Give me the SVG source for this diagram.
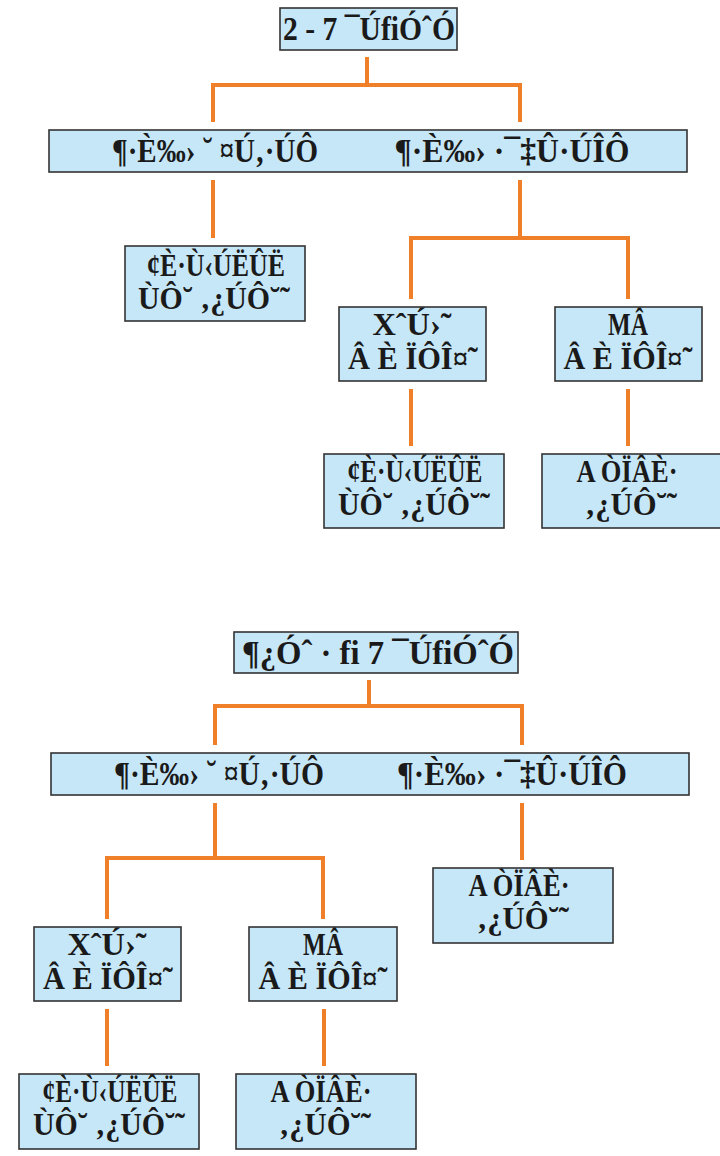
<svg xmlns="http://www.w3.org/2000/svg" width="720" height="1156" viewBox="0 0 720 1156">
<style>
.box{fill:#c6e7f8;stroke:#333;stroke-width:1.6}
.t{font-family:"Liberation Serif","Times New Roman",serif;font-weight:bold;font-size:34px;fill:#1a1a1a;text-anchor:middle}
.s{font-size:31px}
.c{fill:none;stroke:#f07f2a;stroke-width:4}
</style>
<rect width="720" height="1156" fill="#fff"/>
<g id="connectors">
<path class="c" d="M367,57 V85 M213,122 V85 H520 V122"/>
<path class="c" d="M213,180 V238"/>
<path class="c" d="M520,180 V238 M411,299 V238 H628 V299"/>
<path class="c" d="M411,389 V446 M628,389 V446"/>
<path class="c" d="M369,680 V706 M215,745 V706 H522 V745"/>
<path class="c" d="M215,803 V858 M107,919 V858 H323 V919"/>
<path class="c" d="M522,803 V860"/>
<path class="c" d="M107,1009 V1066 M324,1009 V1066"/>
</g>
<g id="n1"><rect class="box" x="280" y="8" width="177" height="42"/><text class="t" x="369" y="40" textLength="172" lengthAdjust="spacingAndGlyphs">2 - 7 ¯ÚfiÓˆÓ</text></g>
<g id="n2"><rect class="box" x="49" y="130" width="638" height="42"/>
<text class="t" x="215" y="162" textLength="206" lengthAdjust="spacingAndGlyphs">¶·È‰› ˘ ¤Ú‚·ÚÔ</text>
<text class="t" x="512" y="162" textLength="235" lengthAdjust="spacingAndGlyphs">¶·È‰› ·¯‡Û·ÚÎÔ</text></g>
<g id="n3"><rect class="box" x="125" y="246" width="180" height="75"/>
<text class="t s" x="216" y="276" textLength="138" lengthAdjust="spacingAndGlyphs">¢È·Ù‹ÚËÛË</text>
<text class="t s" x="214" y="309" textLength="152" lengthAdjust="spacingAndGlyphs">ÙÔ˘ ‚¿ÚÔ˘˜</text></g>
<g id="n4"><rect class="box" x="339" y="307" width="147" height="74"/>
<text class="t s" x="412" y="335" textLength="79" lengthAdjust="spacingAndGlyphs">XˆÚ›˜</text>
<text class="t s" x="413" y="369" textLength="130" lengthAdjust="spacingAndGlyphs">Â È ÏÔÎ¤˜</text></g>
<g id="n5"><rect class="box" x="555" y="307" width="147" height="74"/>
<text class="t s" x="628" y="335" textLength="40" lengthAdjust="spacingAndGlyphs">MÂ</text>
<text class="t s" x="628" y="369" textLength="129" lengthAdjust="spacingAndGlyphs">Â È ÏÔÎ¤˜</text></g>
<g id="n6"><rect class="box" x="324" y="454" width="180" height="74"/>
<text class="t s" x="415" y="482" textLength="135" lengthAdjust="spacingAndGlyphs">¢È·Ù‹ÚËÛË</text>
<text class="t s" x="414" y="515" textLength="152" lengthAdjust="spacingAndGlyphs">ÙÔ˘ ‚¿ÚÔ˘˜</text></g>
<g id="n7"><rect class="box" x="542" y="454" width="180" height="74"/>
<text class="t s" x="627" y="482" textLength="101" lengthAdjust="spacingAndGlyphs">A ÒÏÂÈ·</text>
<text class="t s" x="631" y="515" textLength="92" lengthAdjust="spacingAndGlyphs">‚¿ÚÔ˘˜</text></g>
<g id="n8"><rect class="box" x="234" y="632" width="284" height="41"/><text class="t" x="378" y="664" textLength="272" lengthAdjust="spacingAndGlyphs">¶¿Óˆ · fi 7 ¯ÚfiÓˆÓ</text></g>
<g id="n9"><rect class="box" x="51" y="753" width="638" height="42"/>
<text class="t" x="219" y="785" textLength="210" lengthAdjust="spacingAndGlyphs">¶·È‰› ˘ ¤Ú‚·ÚÔ</text>
<text class="t" x="512" y="785" textLength="230" lengthAdjust="spacingAndGlyphs">¶·È‰› ·¯‡Û·ÚÎÔ</text></g>
<g id="n10"><rect class="box" x="34" y="927" width="147" height="74"/>
<text class="t s" x="107" y="955" textLength="79" lengthAdjust="spacingAndGlyphs">XˆÚ›˜</text>
<text class="t s" x="108" y="989" textLength="130" lengthAdjust="spacingAndGlyphs">Â È ÏÔÎ¤˜</text></g>
<g id="n11"><rect class="box" x="249" y="927" width="148" height="74"/>
<text class="t s" x="323" y="955" textLength="40" lengthAdjust="spacingAndGlyphs">MÂ</text>
<text class="t s" x="323" y="989" textLength="129" lengthAdjust="spacingAndGlyphs">Â È ÏÔÎ¤˜</text></g>
<g id="n12"><rect class="box" x="433" y="868" width="180" height="75"/>
<text class="t s" x="519" y="896" textLength="101" lengthAdjust="spacingAndGlyphs">A ÒÏÂÈ·</text>
<text class="t s" x="523" y="929" textLength="92" lengthAdjust="spacingAndGlyphs">‚¿ÚÔ˘˜</text></g>
<g id="n13"><rect class="box" x="19" y="1074" width="180" height="75"/>
<text class="t s" x="110" y="1102" textLength="135" lengthAdjust="spacingAndGlyphs">¢È·Ù‹ÚËÛË</text>
<text class="t s" x="109" y="1135" textLength="152" lengthAdjust="spacingAndGlyphs">ÙÔ˘ ‚¿ÚÔ˘˜</text></g>
<g id="n14"><rect class="box" x="236" y="1074" width="180" height="75"/>
<text class="t s" x="321" y="1102" textLength="101" lengthAdjust="spacingAndGlyphs">A ÒÏÂÈ·</text>
<text class="t s" x="325" y="1135" textLength="92" lengthAdjust="spacingAndGlyphs">‚¿ÚÔ˘˜</text></g>
</svg>
